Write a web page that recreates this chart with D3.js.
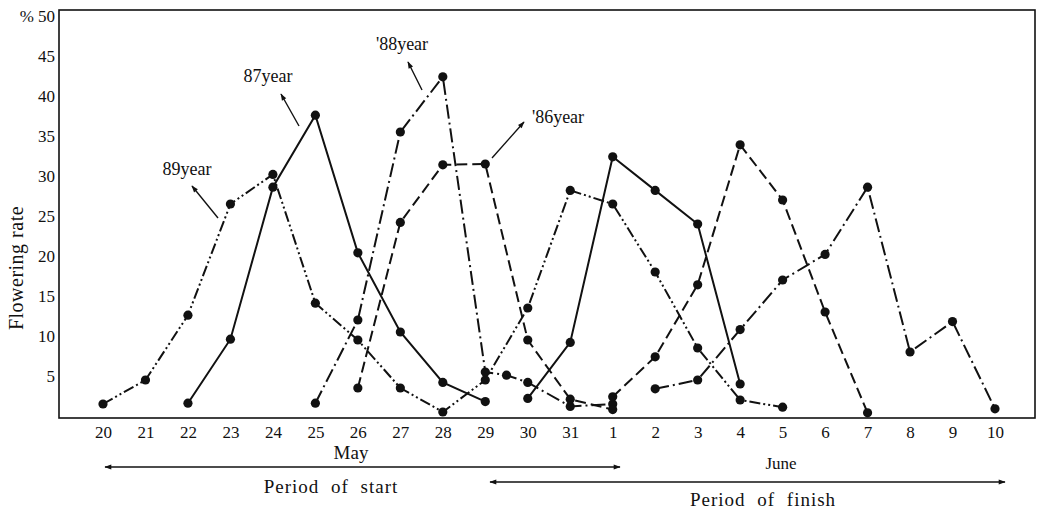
<!DOCTYPE html>
<html><head><meta charset="utf-8">
<script src="https://cdn.jsdelivr.net/npm/d3@7"></script>
<style>
html,body{margin:0;padding:0;background:#fff;}
svg text{font-family:"Liberation Serif","DejaVu Serif",serif;fill:#111;}
</style></head>
<body><svg id="c" width="1037" height="511"></svg>
<script>
// x categories: days from 20 May (index 0) to 10 June (index 21)
const dayLabels = ["20","21","22","23","24","25","26","27","28","29","30","31","1","2","3","4","5","6","7","8","9","10"];
const yTicks = [5,10,15,20,25,30,35,40,45,50];

// each series: [day index, flowering rate %]
const y89 = [[0,1.5],[1,4.5],[2,12.6],[3,26.5],[4,30.2],[5,14.1],[6,9.5],[7,3.5],[8,0.5],[9,4.5],[10,13.5],[11,28.2],[12,26.5],[13,18],[14,8.5],[15,2],[16,1.1]];
const y87start = [[2,1.6],[3,9.6],[4,28.6],[5,37.6],[6,20.4],[7,10.5],[8,4.2],[9,1.8]];
const y87finish = [[10,2.2],[11,9.2],[12,32.4],[13,28.2],[14,24],[15,4]];
const y88start = [[5,1.6],[6,12],[7,35.5],[8,42.4],[9,5.5],[9.5,5.1],[10,4.2],[11,1.2],[12,1.5]];
const y88finish = [[13,3.4],[14,4.5],[15,10.8],[16,17],[17,20.2],[18,28.6],[19,8],[20,11.8],[21,0.9]];
const y86start = [[6,3.5],[7,24.2],[8,31.4],[9,31.5],[10,9.5],[11,2.1],[12,0.8]];
const y86finish = [[12,2.4],[13,7.4],[14,16.4],[15,33.9],[16,27],[17,13],[18,0.4]];

const series = [
  {data:y89, dash:"11,3,2,3,2,3"},
  {data:y87start, dash:null},
  {data:y87finish, dash:null},
  {data:y88start, dash:"14,4,2,4"},
  {data:y88finish, dash:"14,4,2,4"},
  {data:y86start, dash:"11,5"},
  {data:y86finish, dash:"11,5"}
];

const svg = d3.select("#c");
const x = d3.scaleLinear().domain([0,21]).range([103,995]);
const y = d3.scaleLinear().domain([0,50]).range([416,16]);

// frame
svg.append("rect").attr("x",59).attr("y",10).attr("width",976).attr("height",408)
  .attr("fill","none").attr("stroke","#111").attr("stroke-width",1.6);

// x axis labels
const xa = svg.append("g").attr("transform","translate(0,418)")
  .call(d3.axisBottom(x).tickValues(d3.range(dayLabels.length)).tickFormat(i=>dayLabels[i]).tickSize(0).tickPadding(8));
xa.select(".domain").remove();
xa.selectAll("text").attr("font-size",17).attr("font-family","Liberation Serif").attr("fill","#111");

// y axis labels
const ya = svg.append("g").attr("transform","translate(55,0)")
  .call(d3.axisLeft(y).tickValues(yTicks).tickFormat(d3.format("d")).tickSize(0).tickPadding(0));
ya.select(".domain").remove();
ya.selectAll("text").attr("font-size",17).attr("font-family","Liberation Serif").attr("fill","#111");
svg.append("text").attr("x",34).attr("y",y(50)+6).attr("text-anchor","end").attr("font-size",17).text("%");

svg.append("text").attr("transform","translate(23,268) rotate(-90)").attr("text-anchor","middle")
  .attr("font-size",20).attr("letter-spacing",0.5).text("Flowering rate");

// lines
const line = d3.line().x(d=>x(d[0])).y(d=>y(d[1]));
series.forEach(s=>{
  svg.append("path").attr("d",line(s.data)).attr("fill","none").attr("stroke","#111")
    .attr("stroke-width",2).attr("stroke-dasharray",s.dash);
  svg.append("g").selectAll("circle").data(s.data).join("circle")
    .attr("cx",d=>x(d[0])).attr("cy",d=>y(d[1])).attr("r",4.6).attr("fill","#111");
});

// arrow marker
const defs = svg.append("defs");
defs.append("marker").attr("id","ah").attr("viewBox","0 0 10 10").attr("refX",9).attr("refY",5)
  .attr("markerWidth",9).attr("markerHeight",7).attr("orient","auto-start-reverse").attr("markerUnits","userSpaceOnUse")
  .append("path").attr("d","M0,1.5 L10,5 L0,8.5 Z").attr("fill","#111");

function arrow(x1,y1,x2,y2,both){
  const p = svg.append("line").attr("x1",x1).attr("y1",y1).attr("x2",x2).attr("y2",y2)
    .attr("stroke","#111").attr("stroke-width",1.4).attr("marker-end","url(#ah)");
  if(both) p.attr("marker-start","url(#ah)");
}

// year labels with arrows
const yearLabels = [
  {t:"89year", x:187, y:175, a:[218,218,192,186]},
  {t:"87year", x:268, y:82, a:[299,126,281,94]},
  {t:"'88year", x:402, y:50, a:[422,90,408,62]},
  {t:"'86year", x:558, y:123, a:[492,158,524,122]}
];
yearLabels.forEach(l=>{
  svg.append("text").attr("x",l.x).attr("y",l.y).attr("text-anchor","middle").attr("font-size",18).text(l.t);
  arrow(l.a[0],l.a[1],l.a[2],l.a[3],false);
});

// month labels
svg.append("text").attr("x",351).attr("y",459).attr("text-anchor","middle").attr("font-size",19).text("May");
svg.append("text").attr("x",781).attr("y",469).attr("text-anchor","middle").attr("font-size",17).text("June");

// period arrows
arrow(105,467,620,467,true);
arrow(490,482,1005,482,true);
svg.append("text").attr("x",331).attr("y",493).attr("text-anchor","middle").attr("font-size",19)
  .attr("letter-spacing",1).attr("word-spacing",6).text("Period of start");
svg.append("text").attr("x",763).attr("y",506).attr("text-anchor","middle").attr("font-size",19)
  .attr("letter-spacing",1).attr("word-spacing",6).text("Period of finish");
</script></body></html>
